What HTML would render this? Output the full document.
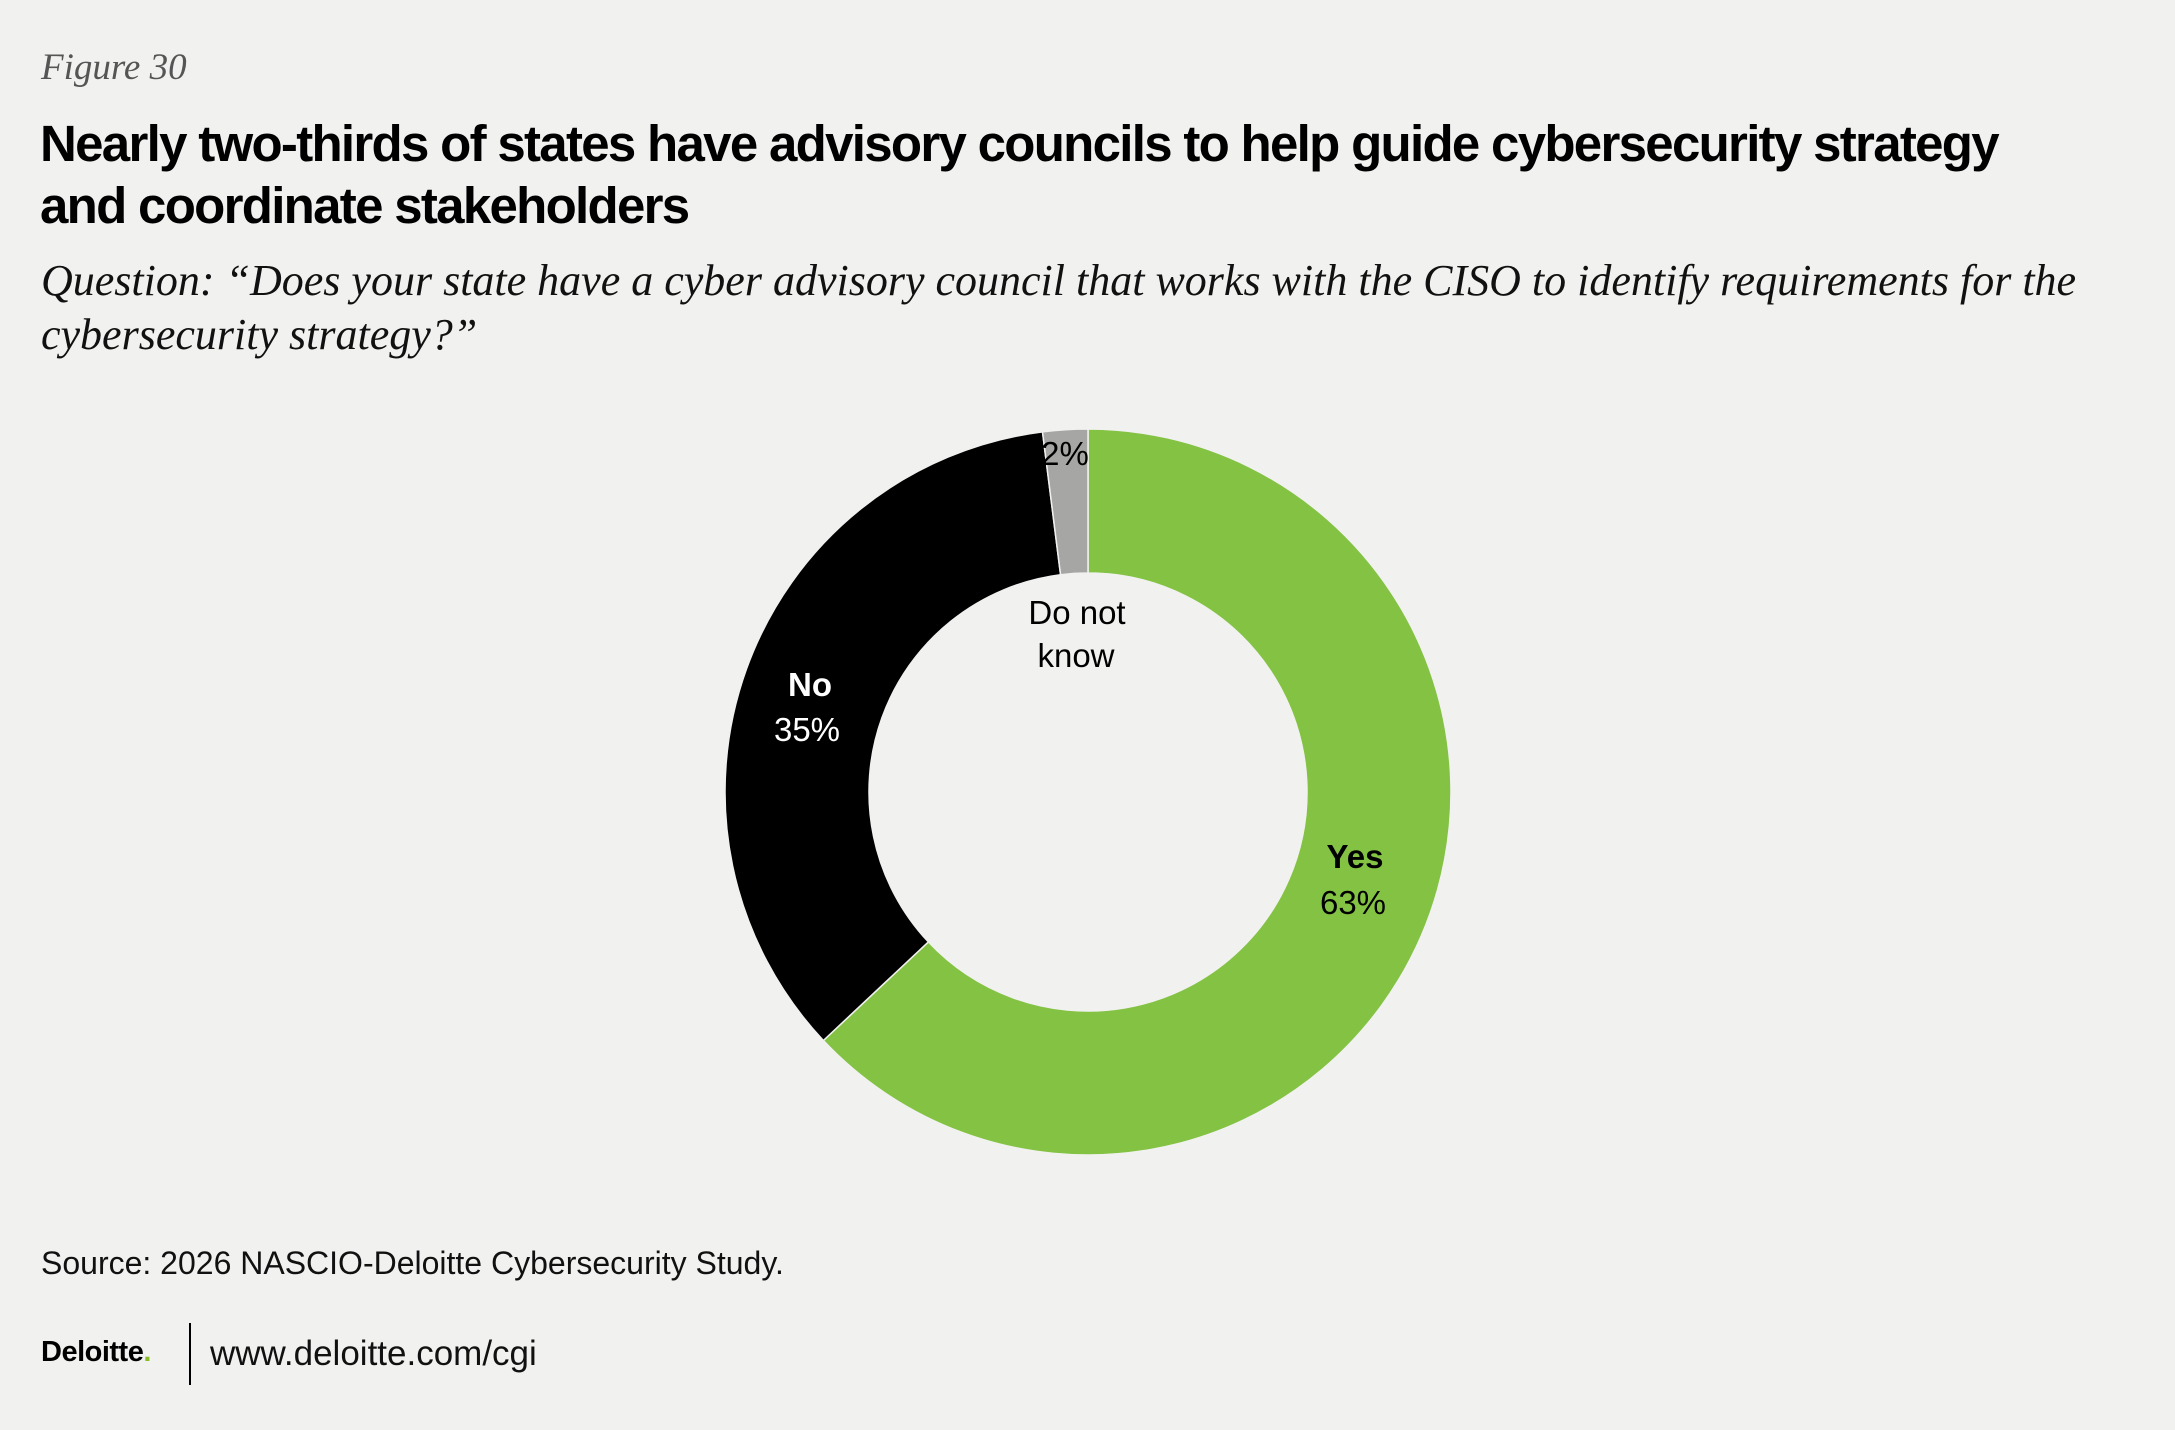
<!DOCTYPE html>
<html><head><meta charset="utf-8"><style>
html,body{margin:0;padding:0;background:#f1f2f0;}
body{width:2175px;height:1430px;position:relative;overflow:hidden;font-family:"Liberation Sans",sans-serif;}
.t{position:absolute;white-space:nowrap;}
#fig{left:41px;top:46px;font-family:"Liberation Serif",serif;font-style:italic;font-size:37px;color:#555;}
#title{left:40px;top:113px;font-family:"Liberation Sans Narrow","Liberation Sans",sans-serif;font-weight:bold;font-size:51px;line-height:62px;color:#000;letter-spacing:-1.7px;transform-origin:0 0;}
#q{left:41px;top:254px;font-family:"Liberation Serif",serif;font-style:italic;font-size:44px;line-height:54px;color:#111;}
#src{left:41px;top:1245px;font-family:"Liberation Sans Narrow","Liberation Sans",sans-serif;font-size:32px;color:#111;}
#logo{left:41px;top:1336px;font-weight:bold;font-size:29px;color:#000;letter-spacing:-0.5px;}
#div{left:189px;top:1323px;width:2px;height:62px;background:#000;}
#url{left:210px;top:1334px;font-family:"Liberation Sans Narrow","Liberation Sans",sans-serif;font-size:35px;color:#111;}
svg{position:absolute;left:0;top:0;}
svg text{font-family:"Liberation Sans Narrow","Liberation Sans",sans-serif;font-size:33px;}
</style></head><body>
<div class="t" id="fig">Figure 30</div>
<div class="t" id="title">Nearly two-thirds of states have advisory councils to help guide cybersecurity strategy<br>and coordinate stakeholders</div>
<div class="t" id="q">Question: “Does your state have a cyber advisory council that works with the CISO to identify requirements for the<br>cybersecurity strategy?”</div>
<svg id="chart" width="2175" height="1430"></svg>
<div class="t" id="src">Source: 2026 NASCIO-Deloitte Cybersecurity Study.</div>
<div class="t" id="logo">Deloitte<span style="color:#86bc25">.</span></div>
<div class="t" id="div"></div>
<div class="t" id="url">www.deloitte.com/cgi</div>
<script>
const categories=["Yes","No","Do not know"];
const values=[63,35,2];
const colors=["#83c243","#000000","#a6a6a5"];
const cx=1088,cy=792,R=363,r=219;
const svg=document.getElementById('chart');
const NS="http://www.w3.org/2000/svg";
const total=values.reduce((a,b)=>a+b,0);
function pt(rad,a){return [cx+rad*Math.sin(a),cy-rad*Math.cos(a)];}
let acc=0;
values.forEach((v,i)=>{
  const a0=acc/total*2*Math.PI;acc+=v;const a1=acc/total*2*Math.PI;
  const lg=(a1-a0)>Math.PI?1:0;
  const [x0,y0]=pt(R,a0),[x1,y1]=pt(R,a1),[x2,y2]=pt(r,a1),[x3,y3]=pt(r,a0);
  const p=document.createElementNS(NS,'path');
  p.setAttribute('d',`M${x0},${y0}A${R},${R} 0 ${lg} 1 ${x1},${y1}L${x2},${y2}A${r},${r} 0 ${lg} 0 ${x3},${y3}Z`);
  p.setAttribute('fill',colors[i]);p.setAttribute('stroke','#f1f2f0');p.setAttribute('stroke-width','1.5');
  
  
  svg.appendChild(p);
});
function txt(x,y,s,fill,bold,name){
  const t=document.createElementNS(NS,'text');
  t.setAttribute('x',x);t.setAttribute('y',y);t.setAttribute('text-anchor','middle');
  t.setAttribute('fill',fill);if(bold)t.setAttribute('font-weight','bold');
  t.textContent=s;
  
  
  svg.appendChild(t);
}
txt(1355,868,categories[0],'#000',true,'label-yes');
txt(1353,914,values[0]+'%','#000',false,'value-yes');
txt(810,696,categories[1],'#fff',true,'label-no');
txt(807,741,values[1]+'%','#fff',false,'value-no');
txt(1077,624,'Do not','#000',false,'label-do-not-know-1');
txt(1076,667,'know','#000',false,'label-do-not-know-2');
txt(1065,465,values[2]+'%','#000',false,'value-do-not-know');
</script>
</body></html>
